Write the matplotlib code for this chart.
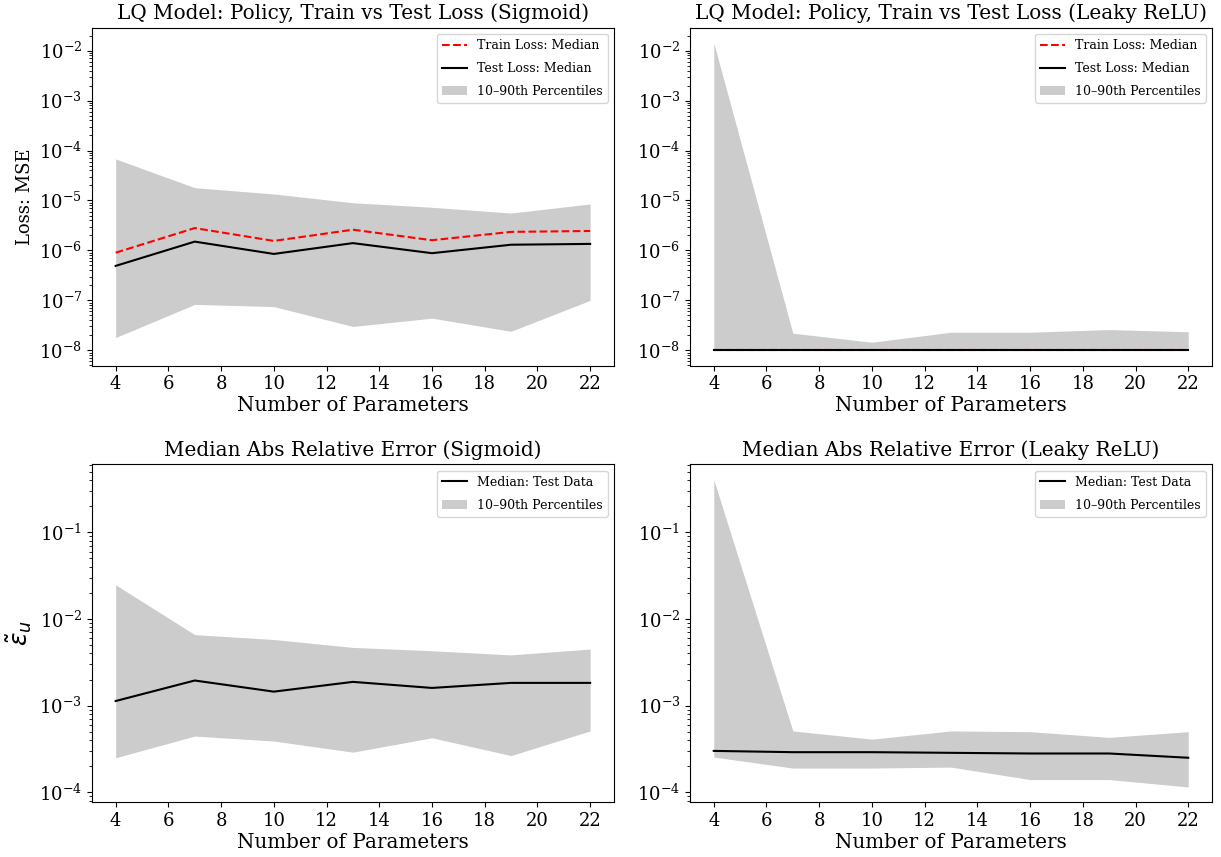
import numpy as np
import matplotlib
matplotlib.use("Agg")
import matplotlib.pyplot as plt

plt.rcParams['font.family'] = 'DejaVu Serif'

# number of parameters on the x axis
n_params = [4, 7, 10, 13, 16, 19, 22]

# LQ loss, sigmoid
sig_train_med = [9.0e-7, 2.8e-6, 1.55e-6, 2.6e-6, 1.6e-6, 2.35e-6, 2.45e-6]
sig_test_med = [4.9e-7, 1.5e-6, 8.5e-7, 1.4e-6, 8.8e-7, 1.3e-6, 1.35e-6]
sig_loss_p90 = [6.8e-5, 1.8e-5, 1.35e-5, 9.0e-6, 7.3e-6, 5.6e-6, 8.5e-6]
sig_loss_p10 = [1.8e-8, 8.3e-8, 7.5e-8, 3.0e-8, 4.4e-8, 2.4e-8, 1.0e-7]

# LQ loss, leaky relu
relu_train_med = [1.02e-8, 1.02e-8, 1.02e-8, 1.02e-8, 1.02e-8, 1.02e-8, 1.02e-8]
relu_test_med = [1.0e-8, 1.0e-8, 1.0e-8, 1.0e-8, 1.0e-8, 1.0e-8, 1.0e-8]
relu_loss_p90 = [1.42e-2, 2.2e-8, 1.45e-8, 2.3e-8, 2.3e-8, 2.6e-8, 2.35e-8]
relu_loss_p10 = [1.0e-8, 1.0e-8, 1.0e-8, 1.0e-8, 1.0e-8, 1.0e-8, 1.0e-8]

# relative error, sigmoid
sig_err_med = [1.13e-3, 1.95e-3, 1.45e-3, 1.88e-3, 1.6e-3, 1.83e-3, 1.83e-3]
sig_err_p90 = [2.48e-2, 6.6e-3, 5.8e-3, 4.7e-3, 4.3e-3, 3.85e-3, 4.5e-3]
sig_err_p10 = [2.5e-4, 4.45e-4, 3.9e-4, 2.9e-4, 4.25e-4, 2.65e-4, 5.1e-4]

# relative error, leaky relu
relu_err_med = [3.0e-4, 2.9e-4, 2.9e-4, 2.85e-4, 2.8e-4, 2.8e-4, 2.5e-4]
relu_err_p90 = [0.406, 5.1e-4, 4.1e-4, 5.1e-4, 5.0e-4, 4.3e-4, 5.0e-4]
relu_err_p10 = [2.55e-4, 1.9e-4, 1.9e-4, 1.95e-4, 1.4e-4, 1.4e-4, 1.15e-4]

fig, axes = plt.subplots(2, 2, figsize=(12.21, 8.57), dpi=100, sharey='row')
fig.subplots_adjust(left=0.0753, right=0.9926, top=0.9677, bottom=0.0638,
                    wspace=0.146, hspace=0.292)

band_col = '#cccccc'

def style_ax(ax, title):
    ax.set_yscale('log')
    ax.set_title(title, fontsize=14.4)
    ax.set_xlabel('Number of Parameters', fontsize=14.3, labelpad=2)
    ax.set_xticks(np.arange(4, 23, 2))
    ax.tick_params(labelsize=13, labelleft=True)
    ax.legend(loc='upper right', fontsize=9, labelspacing=0.8)

def loss_panel(ax, train, test, lo, hi, title):
    ax.plot(n_params, train, 'r--', label='Train Loss: Median')
    ax.plot(n_params, test, 'k-', label='Test Loss: Median')
    ax.fill_between(n_params, lo, hi, color=band_col, linewidth=0,
                    label='10–90th Percentiles')
    style_ax(ax, title)

def err_panel(ax, med, lo, hi, title):
    ax.plot(n_params, med, 'k-', label='Median: Test Data')
    ax.fill_between(n_params, lo, hi, color=band_col, linewidth=0,
                    label='10–90th Percentiles')
    style_ax(ax, title)

loss_panel(axes[0, 0], sig_train_med, sig_test_med, sig_loss_p10, sig_loss_p90,
           'LQ Model: Policy, Train vs Test Loss (Sigmoid)')
loss_panel(axes[0, 1], relu_train_med, relu_test_med, relu_loss_p10, relu_loss_p90,
           'LQ Model: Policy, Train vs Test Loss (Leaky ReLU)')
err_panel(axes[1, 0], sig_err_med, sig_err_p10, sig_err_p90,
          'Median Abs Relative Error (Sigmoid)')
err_panel(axes[1, 1], relu_err_med, relu_err_p10, relu_err_p90,
          'Median Abs Relative Error (Leaky ReLU)')

axes[0, 0].set_ylabel('Loss: MSE', fontsize=13)
axes[1, 0].set_ylabel(r'$\tilde{\varepsilon}_u$', fontsize=18)

fig.savefig('out.png', dpi=100)
